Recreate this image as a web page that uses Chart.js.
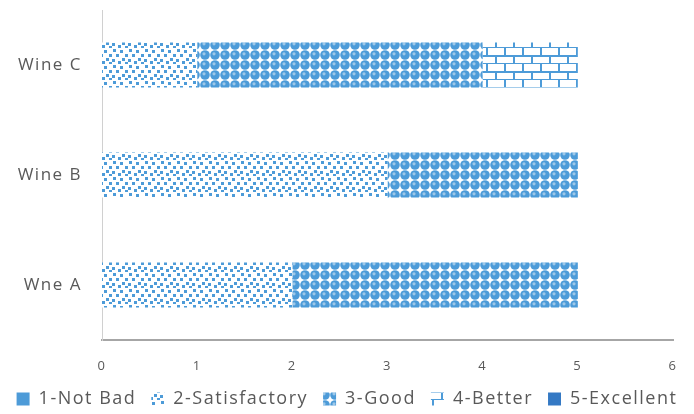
<!DOCTYPE html>
<html>
<head>
<meta charset="utf-8">
<script src="https://cdn.jsdelivr.net/npm/chart.js@4/dist/chart.umd.min.js"></script>
<style>
  html, body { margin: 0; padding: 0; background: #ffffff; }
  #wrap { width: 694px; height: 414px; }
</style>
</head>
<body>
<div id="wrap"><canvas id="chart" width="694" height="414"></canvas></div>
<script>
// Wine ratings, stacked by score band
const categories = ['Wine C', 'Wine B', 'Wne A'];
const seriesNames = ['1-Not Bad', '2-Satisfactory', '3-Good', '4-Better', '5-Excellent'];
const notBad       = [0, 0, 0];
const satisfactory = [1, 3, 2];
const good         = [3, 2, 3];
const better       = [1, 0, 0];
const excellent    = [0, 0, 0];
const xTicks = [0, 1, 2, 3, 4, 5, 6];

const BLUE = '#4d9bd8';
const BLUE_DARK = '#3479c4';
const TEXT = '#595959';

function makePattern(w, h, draw) {
  const c = document.createElement('canvas');
  c.width = w; c.height = h;
  const g = c.getContext('2d');
  g.fillStyle = '#ffffff';
  g.fillRect(0, 0, w, h);
  draw(g);
  return g.createPattern(c, 'repeat');
}

// scattered small squares
const confetti = makePattern(16, 16, g => {
  g.fillStyle = BLUE;
  [[1,1],[8,2],[13,6],[4,6],[10,10],[0,11],[6,13],[13,14]].forEach(([x, y]) => g.fillRect(x, y, 3, 3));
});

// grid of shaded spheres
const spheres = makePattern(10, 10, g => {
  g.fillStyle = BLUE;
  g.beginPath(); g.arc(5, 5, 4.8, 0, Math.PI * 2); g.fill();
  g.fillStyle = 'rgba(255,255,255,0.45)';
  g.beginPath(); g.arc(4, 3.8, 1.6, 0, Math.PI * 2); g.fill();
});

// brick outline
const bricks = makePattern(18, 16, g => {
  g.fillStyle = BLUE;
  g.fillRect(0, 7, 18, 2);
  g.fillRect(0, 15, 18, 2);
  g.fillRect(0, 0, 2, 8);
  g.fillRect(9, 8, 2, 8);
});

const fills = [BLUE, confetti, spheres, bricks, BLUE_DARK];
const values = [notBad, satisfactory, good, better, excellent];

const datasets = seriesNames.map((name, i) => ({
  label: name,
  data: values[i],
  backgroundColor: fills[i],
  borderWidth: 0,
  barPercentage: 0.41,
  categoryPercentage: 1.0
}));

// slightly wider text tracking for all labels
const TRACK = '1.5px';
const tracking = {
  id: 'tracking',
  beforeLayout(chart) { chart.ctx.letterSpacing = TRACK; },
  beforeDraw(chart) { chart.ctx.letterSpacing = TRACK; }
};

new Chart(document.getElementById('chart'), {
  type: 'bar',
  data: { labels: categories, datasets },
  plugins: [tracking],
  options: {
    indexAxis: 'y',
    responsive: false,
    animation: false,
    layout: { padding: { top: 10, left: 0, right: 0, bottom: -4 } },
    plugins: {
      tooltip: { enabled: false },
      legend: {
        position: 'bottom',
        labels: {
          boxWidth: 13,
          boxHeight: 13,
          padding: 15,
          color: TEXT,
          font: { family: 'Open Sans', size: 18 }
        }
      }
    },
    scales: {
      x: {
        stacked: true,
        min: 0,
        max: 6,
        afterBuildTicks: s => { s.ticks = xTicks.map(v => ({ value: v })); },
        grid: { display: false, drawTicks: false },
        border: { display: true, color: '#a6a6a6', width: 2 },
        ticks: { color: TEXT, padding: 18, font: { family: 'Open Sans', size: 13 } },
        afterFit: s => { s.height = 35; s.paddingRight = 21; }
      },
      y: {
        stacked: true,
        grid: { display: false, drawTicks: false },
        border: { display: true, color: '#d0d0d0', width: 1 },
        ticks: { color: TEXT, padding: 20, font: { family: 'Open Sans', size: 17 } },
        afterFit: s => { s.width = 102; s.paddingTop = 0; s.paddingBottom = 0; }
      }
    }
  }
});
</script>
</body>
</html>
